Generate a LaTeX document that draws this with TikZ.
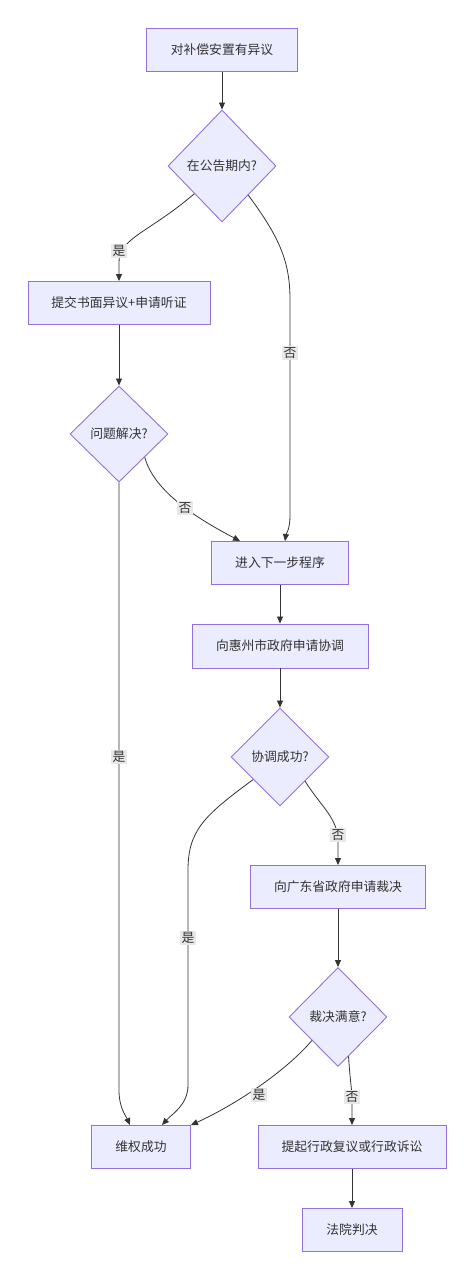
\documentclass[tikz,border=0pt]{standalone}
\usepackage{fontspec}
\newfontfamily\cjk{Noto Sans CJK SC}
\usetikzlibrary{shapes.geometric,arrows.meta}
\definecolor{boxfill}{HTML}{ECECFF}
\definecolor{boxline}{HTML}{9370DB}
\definecolor{ink}{HTML}{333333}
\definecolor{lblbg}{HTML}{E8E8E8}
\tikzset{
  box/.style={draw=boxline, fill=boxfill, line width=0.9pt, inner sep=0pt, minimum height=43pt, text=ink, font=\cjk\fontsize{12.8}{15}\selectfont},
  dia/.style={diamond, draw=boxline, fill=boxfill, line width=0.9pt, inner sep=0pt, text=ink, font=\cjk\fontsize{12.8}{15}\selectfont},
  lbl/.style={fill=lblbg, inner sep=1.5pt, text=ink, font=\cjk\fontsize{12.8}{15}\selectfont},
  conn/.style={draw=ink, line width=0.8pt, -{Triangle[length=7pt,width=6pt]}}
}
\begin{document}
\begin{tikzpicture}[x=1pt,y=-1pt]
\useasboundingbox (0,0) rectangle (474,1280);
\fill[white] (0,0) rectangle (474,1280);
% nodes
\node[box, minimum width=151pt] (n1) at (222,50) {对补偿安置有异议};
\node[dia, minimum width=108pt, minimum height=112pt] (d1) at (222,166) {在公告期内?};
\node[box, minimum width=182pt] (n2) at (119,303) {提交书面异议+申请听证};
\node[dia, minimum width=98pt, minimum height=96pt] (d2) at (119,434) {问题解决?};
\node[box, minimum width=137pt] (n3) at (280,563) {进入下一步程序};
\node[box, minimum width=176pt, minimum height=44pt] (n4) at (280,646) {向惠州市政府申请协调};
\node[dia, minimum width=98pt, minimum height=98pt] (d3) at (280,757) {协调成功?};
\node[box, minimum width=175pt] (n5) at (338,887) {向广东省政府申请裁决};
\node[dia, minimum width=98pt, minimum height=99pt] (d4) at (338,1017) {裁决满意?};
\node[box, minimum width=99pt] (n6) at (141,1147) {维权成功};
\node[box, minimum width=188pt] (n7) at (352,1147) {提起行政复议或行政诉讼};
\node[box, minimum width=100pt] (n8) at (352,1230) {法院判决};
% connectors
\draw[conn] (n1.south) -- (d1.north);
\draw[conn] (d1.225) .. controls (150,232) and (119,238) .. (119,262) -- (n2.north);
\draw[conn] (d1.312) .. controls (280,238) and (290,262) .. (290,300) -- (290,515) .. controls (290,530) and (286,534) .. ([xshift=5pt]n3.north);
\draw[conn] (n2.south) -- (d2.north);
\draw[conn] (d2.318) .. controls (155,496) and (210,525) .. ([xshift=-40pt]n3.north);
\draw[conn] (d2.south) -- (119,1090) .. controls (119,1108) and (126,1116) .. ([xshift=-11pt]n6.north);
\draw[conn] (n3.south) -- (n4.north);
\draw[conn] (n4.south) -- (d3.north);
\draw[conn] (d3.220) .. controls (205,815) and (188,830) .. (188,870) -- (188,1085) .. controls (188,1105) and (172,1114) .. ([xshift=21pt]n6.north);
\draw[conn] (d3.316) .. controls (322,808) and (338,818) .. (338,842) -- (n5.north);
\draw[conn] (n5.south) -- (d4.north);
\draw[conn] (d4.222) .. controls (285,1072) and (235,1105) .. (n6.north east);
\draw[conn] (d4.285) .. controls (350,1080) and (352,1090) .. (352,1100) -- (n7.north);
\draw[conn] (n7.south) -- (n8.north);
% labels
\node[lbl] (l1) at (119,251) {是};
\node[lbl] (l2) at (290,353) {否};
\node[lbl] (l3) at (185,508) {否};
\node[lbl] (l4) at (119,757) {是};
\node[lbl] (l5) at (188,938) {是};
\node[lbl] (l6) at (338,835) {否};
\node[lbl] (l7) at (259,1095) {是};
\node[lbl] (l8) at (352,1097) {否};
\end{tikzpicture}
\end{document}
